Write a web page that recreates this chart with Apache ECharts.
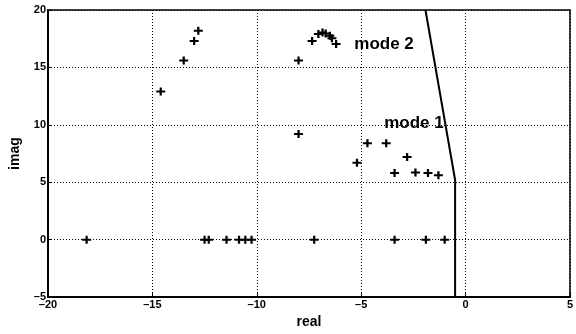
<!DOCTYPE html>
<html>
<head>
<meta charset="utf-8">
<script src="https://cdn.jsdelivr.net/npm/echarts@6/dist/echarts.min.js"></script>
<style>
  html, body { margin: 0; padding: 0; background: #fff; }
  #chart { width: 576px; height: 334px; }
</style>
</head>
<body>
<div id="chart"></div>
<script>
// eigenvalue locus points (real, imag)
const highFreqPoles = [
  [-14.6, 12.9], [-13.5, 15.6], [-13.0, 17.3], [-12.8, 18.2],
];
const mode2Poles = [
  [-8.0, 15.6], [-7.35, 17.3], [-7.05, 17.9], [-6.85, 18.05], [-6.7, 17.95],
  [-6.5, 17.75], [-6.4, 17.55], [-6.2, 17.05],
];
const mode1Poles = [
  [-8.0, 9.2], [-5.2, 6.7], [-4.7, 8.4], [-3.8, 8.4], [-2.8, 7.2],
  [-3.4, 5.8], [-2.4, 5.85], [-1.8, 5.8], [-1.3, 5.6],
];
const realPoles = [
  [-18.15, 0], [-12.5, 0], [-12.3, 0], [-11.45, 0], [-10.85, 0],
  [-10.55, 0], [-10.25, 0], [-7.25, 0], [-3.4, 0], [-1.9, 0], [-1.0, 0],
];
const boundary = [[-1.92, 20], [-0.5, 5.2], [-0.5, -5]];
const annotations = [
  { text: "mode 2", at: [-5.33, 17.05] },
  { text: "mode 1", at: [-3.9, 10.15] },
];
const xTicks = [-20, -15, -10, -5, 0, 5];
const yTicks = [-5, 0, 5, 10, 15, 20];

const font = "Liberation Sans, Arial, sans-serif";
const plus = "path://M3,0H5V3H8V5H5V8H3V5H0V3H3Z";
const allPoles = [].concat(highFreqPoles, mode2Poles, mode1Poles, realPoles);

const chart = echarts.init(document.getElementById("chart"));

const axisCommon = {
  type: "value",
  interval: 5,
  axisLine: { show: true, onZero: false, lineStyle: { color: "#000", width: 2 } },
  axisTick: { show: true, inside: true, length: 4, lineStyle: { color: "#000", width: 1 } },
  splitLine: { show: true, lineStyle: { color: "#000", width: 1, type: [1, 2] } },
  axisLabel: {
    color: "#000", fontFamily: font, fontSize: 11, fontWeight: "bold",
    formatter: (v) => (v < 0 ? "\u2013" + Math.abs(v) : String(v)),
  },
  nameTextStyle: { color: "#000", fontFamily: font, fontSize: 14, fontWeight: "bold" },
};

const option = {
  animation: false,
  backgroundColor: "#fff",
  grid: {
    left: 47, right: 4, top: 10, bottom: 26,
    show: true, borderColor: "#000", borderWidth: 1.5,
  },
  xAxis: Object.assign({}, axisCommon, {
    min: xTicks[0], max: xTicks[xTicks.length - 1],
    name: "real", nameLocation: "middle", nameGap: 11,
    axisLabel: Object.assign({}, axisCommon.axisLabel, { margin: 2 }),
  }),
  yAxis: Object.assign({}, axisCommon, {
    min: yTicks[0], max: yTicks[yTicks.length - 1],
    name: "imag", nameLocation: "middle", nameGap: 26,
    axisLabel: Object.assign({}, axisCommon.axisLabel, { margin: 2 }),
  }),
  series: [
    {
      type: "line",
      data: boundary,
      symbol: "none",
      lineStyle: { color: "#000", width: 2 },
      z: 3,
    },
    {
      type: "scatter",
      data: allPoles,
      symbol: plus,
      symbolSize: [9, 8],
      itemStyle: { color: "#000", opacity: 1 },
      z: 4,
    },
    {
      type: "scatter",
      data: annotations.map((a) => ({ value: a.at, name: a.text })),
      symbolSize: 0,
      silent: true,
      itemStyle: { opacity: 1 },
      label: {
        show: true,
        position: "right",
        distance: 0,
        formatter: (p) => p.name,
        color: "#000",
        opacity: 1,
        fontFamily: font,
        fontSize: 17,
        fontWeight: "bold",
      },
      z: 5,
    },
  ],
};

chart.setOption(option);
</script>
</body>
</html>
